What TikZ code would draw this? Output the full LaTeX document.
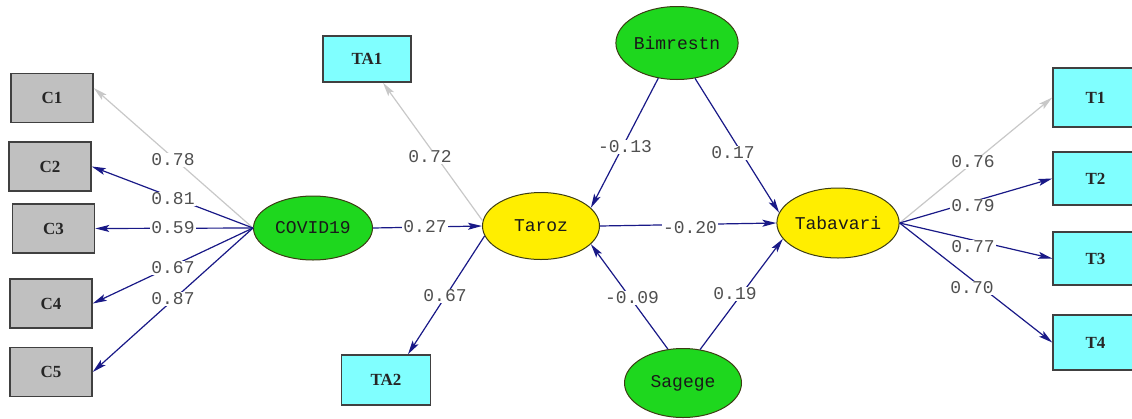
\documentclass[tikz,border=0pt]{standalone}
\usepackage{fontspec}
\setmainfont{Liberation Serif}
\newfontfamily\monofont{Liberation Mono}
\usetikzlibrary{arrows.meta,shapes.geometric}
\definecolor{navyline}{RGB}{25,25,135}
\definecolor{lgrayline}{RGB}{200,200,200}
\definecolor{boxgray}{RGB}{192,192,192}
\definecolor{cyanbox}{RGB}{128,255,255}
\definecolor{latgreen}{RGB}{30,215,30}
\definecolor{latyellow}{RGB}{255,238,0}
\definecolor{labgray}{RGB}{80,80,80}
\definecolor{latborder}{RGB}{60,60,20}
\tikzset{
  obs/.style={draw=black!75, line width=1.5pt, inner sep=0pt, minimum width=82pt, minimum height=49pt, font=\bfseries\fontsize{17}{17}\selectfont, text=black!85},
  cbox/.style={obs, fill=boxgray},
  tbox/.style={obs, fill=cyanbox},
  lat/.style={ellipse, draw=latborder, line width=1pt, inner sep=0pt, minimum width=118pt, minimum height=66pt, font=\monofont\fontsize{18}{18}\selectfont, text=black!90},
  latg/.style={lat, fill=latgreen},
  laty/.style={lat, fill=latyellow},
  link/.style={draw=navyline, line width=1.2pt, -{Stealth[length=14pt,width=7pt,inset=3pt]}},
  fixedlink/.style={link, draw=lgrayline},
  coef/.style={fill=white, inner sep=1pt, text=labgray, font=\monofont\fontsize{18}{18}\selectfont}
}
\begin{document}
\begin{tikzpicture}[x=1pt,y=-1pt]
\useasboundingbox (0,0) rectangle (1132,418);
\clip (0,0) rectangle (1132,418);
% observed variables
\node[cbox] (c1) at (52,98) {C1};
\node[cbox] (c2) at (50,166.5) {C2};
\node[cbox] (c3) at (53.5,228.5) {C3};
\node[cbox] (c4) at (51,303.5) {C4};
\node[cbox] (c5) at (51,372) {C5};
\node[tbox, minimum width=88pt, minimum height=46pt] (ta1) at (367,59) {TA1};
\node[tbox, minimum width=89pt, minimum height=50pt] (ta2) at (386,380) {TA2};
\node[tbox, minimum width=85pt, minimum height=59pt] (t1) at (1095.5,97.5) {T1};
\node[tbox, minimum width=85pt, minimum height=53pt] (t2) at (1095.5,178.5) {T2};
\node[tbox, minimum width=85pt, minimum height=53pt] (t3) at (1095.5,258.5) {T3};
\node[tbox, minimum width=85pt, minimum height=55pt] (t4) at (1095.5,342.5) {T4};
% latent variables
\node[latg, minimum width=119pt, minimum height=64pt] (covid) at (313,228) {COVID19};
\node[laty, minimum width=117pt, minimum height=67pt] (taroz) at (541,226) {Taroz};
\node[latg, minimum width=120pt, minimum height=73pt] (bim) at (677,43) {Bimrestn};
\node[latg, minimum width=117pt, minimum height=69pt] (sag) at (683,383) {Sagege};
\node[laty, minimum width=117pt, minimum height=70pt] (tab) at (838,223) {Tabavari};
% connectors
\draw[fixedlink] (covid.west) -- ([yshift=10pt]c1.east);
\draw[link] (covid.west) -- (c2.east);
\draw[link] (covid.west) -- (c3.east);
\draw[link] (covid.west) -- (c4.east);
\draw[link] (covid.west) -- (c5.east);
\draw[link] (covid.east) -- (taroz.west);
\draw[fixedlink] (taroz.175) -- ([xshift=16pt]ta1.south);
\draw[link] (taroz.190) -- ([xshift=22pt]ta2.north);
\draw[link] (bim.242) -- (taroz.20);
\draw[link] (bim.297) -- (tab.170);
\draw[link] (sag.114) -- (taroz.340);
\draw[link] (sag.63) -- (tab.196);
\draw[link] (taroz.east) -- (tab.west);
\draw[fixedlink] (tab.east) -- (t1.west);
\draw[link] (tab.east) -- (t2.west);
\draw[link] (tab.east) -- (t3.west);
\draw[link] (tab.east) -- (t4.west);
% coefficients
\node[coef] (l1) at (173,160) {0.78};
\node[coef] (l2) at (173,199) {0.81};
\node[coef] (l3) at (173,228) {0.59};
\node[coef] (l4) at (173,268) {0.67};
\node[coef] (l5) at (173,299) {0.87};
\node[coef] (l6) at (425,227) {0.27};
\node[coef] (l7) at (430,157) {0.72};
\node[coef] (l8) at (445,296) {0.67};
\node[coef] (l9) at (625,147) {-0.13};
\node[coef] (l10) at (733,153) {0.17};
\node[coef] (l11) at (690,228) {-0.20};
\node[coef] (l12) at (632,298) {-0.09};
\node[coef] (l13) at (735,294) {0.19};
\node[coef] (l14) at (973,162) {0.76};
\node[coef] (l15) at (973,206) {0.79};
\node[coef] (l16) at (973,247) {0.77};
\node[coef] (l17) at (972,288) {0.70};
\end{tikzpicture}
\end{document}
